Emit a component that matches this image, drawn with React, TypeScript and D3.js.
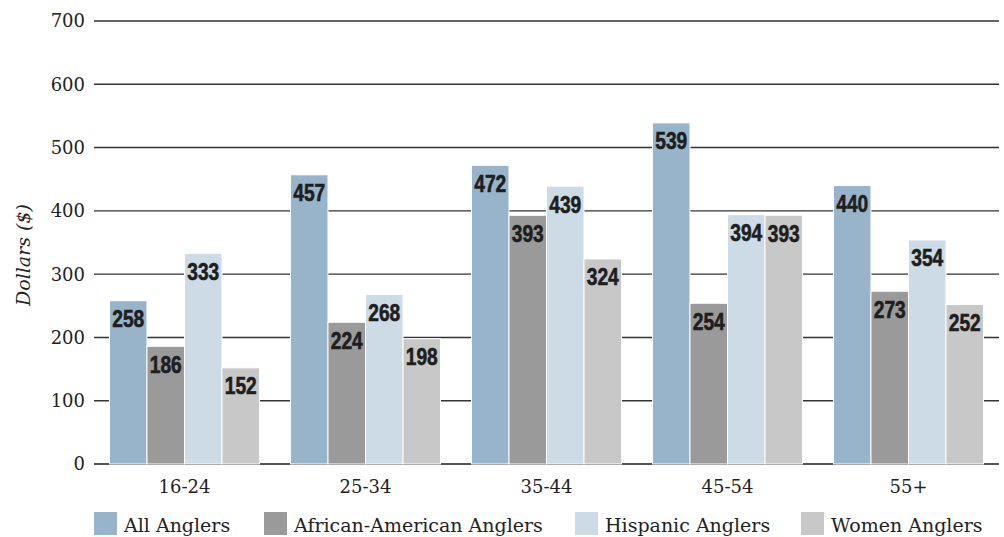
import React from "react";
import * as d3 from "d3";

const categories = ["16-24", "25-34", "35-44", "45-54", "55+"];
const seriesNames = ["All Anglers", "African-American Anglers", "Hispanic Anglers", "Women Anglers"];
const allAnglers = [258, 457, 472, 539, 440];
const africanAmerican = [186, 224, 393, 254, 273];
const hispanic = [333, 268, 439, 394, 354];
const women = [152, 198, 324, 393, 252];
const yTicks = [0, 100, 200, 300, 400, 500, 600, 700];
const colors = ["#98b4cb", "#9a9a9a", "#cddbe6", "#c8c8c8"];

const W = 1004;
const H = 537;
const left = 94;
const right = 999;
const top = 21;
const bottom = 464;
const serif = "'DejaVu Serif', serif";
const labelFont = "'Liberation Sans', Arial, sans-serif";
const legendX = [94, 264, 575, 801];

export default function App() {
  const series = [allAnglers, africanAmerican, hispanic, women];
  const x0 = d3.scaleBand<string>().domain(categories).range([left, right]).paddingInner(0.171).paddingOuter(0.0855);
  const x1 = d3.scaleBand<number>().domain(d3.range(series.length)).range([0, x0.bandwidth()]);
  const y = d3.scaleLinear().domain([0, 700]).range([bottom, top]);

  return (
    <svg width={W} height={H} style={{ display: "block", position: "absolute", left: 0, top: 0 }}>
      {yTicks.map((t) => (
        <g key={t}>
          <line x1={left} x2={right} y1={y(t)} y2={y(t)} stroke={t === 0 ? "#555" : "#333"} strokeWidth={t === 0 ? 2 : 1.4} />
          <text x={85} y={y(t)} dy="0.36em" textAnchor="end" fontFamily={serif} fontSize={18} fill="#222">
            {t}
          </text>
        </g>
      ))}
      <text
        transform={`translate(30,255) rotate(-90)`}
        textAnchor="middle"
        fontFamily={serif}
        fontStyle="italic"
        fontSize={19}
        fill="#222"
      >
        Dollars ($)
      </text>
      {categories.map((c, ci) => (
        <g key={c} transform={`translate(${x0(c)},0)`}>
          {series.map((s, si) => (
            <rect
              key={si}
              x={x1(si)}
              y={y(s[ci])}
              width={x1.bandwidth()}
              height={y(0) - y(s[ci])}
              fill={colors[si]}
              stroke="#fff"
              strokeWidth={1}
            />
          ))}
          {series.map((s, si) => (
            <text
              key={"l" + si}
              x={(x1(si) as number) + x1.bandwidth() / 2}
              y={y(s[ci]) + 26.5}
              textAnchor="middle"
              fontFamily={labelFont}
              fontWeight="bold"
              fontSize={23}
              textLength={32}
              lengthAdjust="spacingAndGlyphs"
              fill="#1e1e1e"
              stroke="#1e1e1e"
              strokeWidth={0.6}
            >
              {s[ci]}
            </text>
          ))}
          <text
            x={x0.bandwidth() / 2}
            y={493}
            textAnchor="middle"
            fontFamily={serif}
            fontSize={18}
            fill="#222"
          >
            {c}
          </text>
        </g>
      ))}
      {seriesNames.map((n, i) => (
        <g key={n} transform={`translate(${legendX[i]},512)`}>
          <rect x={0} y={0} width={23} height={23} fill={colors[i]} />
          <text x={30} y={20} fontFamily={serif} fontSize={19} fill="#222">
            {n}
          </text>
        </g>
      ))}
    </svg>
  );
}
